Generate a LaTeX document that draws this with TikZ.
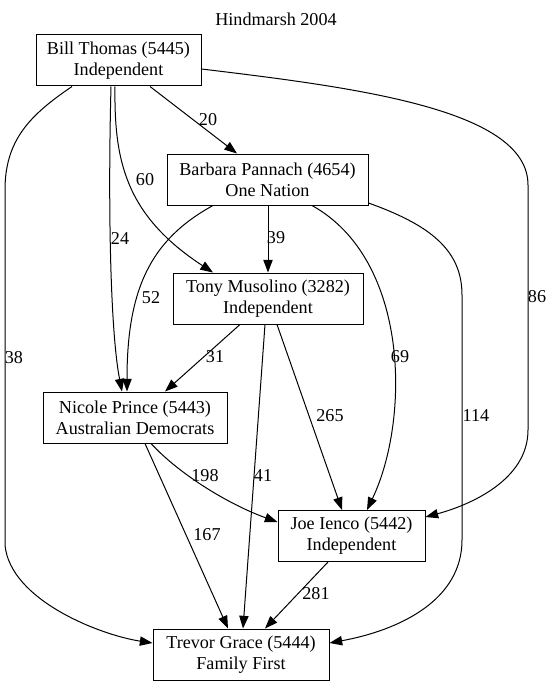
\documentclass[tikz,border=0pt]{standalone}
\usepackage{fontspec}
\setmainfont{Liberation Serif}
\usetikzlibrary{calc,arrows.meta}
\begin{document}
\begin{tikzpicture}[x=0.75pt,y=-0.75pt,
  every node/.style={font=\fontsize{13.6}{15.75}\selectfont},
  box/.style={draw,line width=0.75pt,rectangle,align=center,inner sep=0pt,minimum height=38.25pt},
  edge/.style={line width=0.75pt,-{Triangle[length=9.5pt,width=7pt]}},
  lbl/.style={inner sep=0pt}]
\useasboundingbox (0,0) rectangle (552,685);
\node[lbl] (title) at (276,19) {Hindmarsh 2004};
\node[box,minimum width=123.75pt] (bill) at (118.5,60.5) {Bill Thomas (5445)\\Independent};
\node[box,minimum width=150.75pt] (barb) at (267.5,179.5) {Barbara Pannach (4654)\\One Nation};
\node[box,minimum width=142.5pt] (tony) at (268,298.5) {Tony Musolino (3282)\\Independent};
\node[box,minimum width=138pt] (nic) at (135,417.5) {Nicole Prince (5443)\\Australian Democrats};
\node[box,minimum width=110.25pt] (joe) at (351.5,536) {Joe Ienco (5442)\\Independent};
\node[box,minimum width=132pt] (trev) at (241,654.5) {Trevor Grace (5444)\\Family First};
% Bill -> Barbara
\draw[edge] ($(bill.south)+(31.5,0)$) -- ($(barb.north)+(-30.5,0)$);
\node[lbl] (l20) at (208,120) {20};
% Bill -> Tony
\draw[edge] ($(bill.south)+(-3.5,0)$) .. controls (114,160) and (125,215) .. ($(tony.north)+(-55,0)$);
\node[lbl] (l60) at (145,180) {60};
% Bill -> Nicole
\draw[edge] ($(bill.south)+(-7.5,0)$) .. controls (108,200) and (110,330) .. ($(nic.north)+(-13,0)$);
\node[lbl] (l24) at (120,238) {24};
% Bill -> Trevor
\draw[edge] ($(bill.south)+(-46.5,0)$) .. controls (30,115) and (5,140) .. (5,190) -- (5,545) .. controls (10,600) and (100,635) .. ($(trev.west)+(0,-11.5)$);
\node[lbl] (l38) at (14,358) {38};
% Bill -> Joe
\draw[edge] ($(bill.east)+(0,8.5)$) .. controls (360,88) and (528,110) .. (528,185) -- (528,430) .. controls (528,480) and (470,505) .. ($(joe.east)+(0,-19)$);
\node[lbl] (l86) at (537,297) {86};
% Barbara -> Tony
\draw[edge] ($(barb.south)+(0.5,0)$) -- (tony.north);
\node[lbl] (l39) at (276,238) {39};
% Barbara -> Nicole
\draw[edge] ($(barb.south)+(-54.5,0)$) .. controls (150,240) and (127,290) .. ($(nic.north)+(-8,0)$);
\node[lbl] (l52) at (151,298) {52};
% Barbara -> Joe
\draw[edge] ($(barb.south)+(44.5,0)$) .. controls (410,260) and (410,420) .. ($(joe.north)+(15.5,0)$);
\node[lbl] (l69) at (400,357) {69};
% Barbara -> Trevor
\draw[edge] ($(barb.east)+(0,23.5)$) .. controls (430,225) and (462,250) .. (462,295) -- (462,540) .. controls (462,600) and (400,630) .. ($(trev.east)+(0,-11.5)$);
\node[lbl] (l114) at (476,416) {114};
% Tony -> Nicole
\draw[edge] ($(tony.south)+(-28,0)$) -- ($(nic.north)+(30,0)$);
\node[lbl] (l31) at (215,357) {31};
% Tony -> Trevor
\draw[edge] ($(tony.south)+(-3,0)$) -- ($(trev.north)+(2,0)$);
\node[lbl] (l41) at (263,476) {41};
% Tony -> Joe
\draw[edge] ($(tony.south)+(9,0)$) -- ($(joe.north)+(-9.5,0)$);
\node[lbl] (l265) at (330,416) {265};
% Nicole -> Joe
\draw[edge] ($(nic.south)+(16,0)$) .. controls (180,475) and (230,505) .. ($(joe.west)+(0,-14)$);
\node[lbl] (l198) at (205,476) {198};
% Nicole -> Trevor
\draw[edge] ($(nic.south)+(10,0)$) -- ($(trev.north)+(-13,0)$);
\node[lbl] (l167) at (207,535) {167};
% Joe -> Trevor
\draw[edge] ($(joe.south)+(-23.5,0)$) -- ($(trev.north)+(24,0)$);
\node[lbl] (l281) at (316,594) {281};
\end{tikzpicture}
\end{document}
